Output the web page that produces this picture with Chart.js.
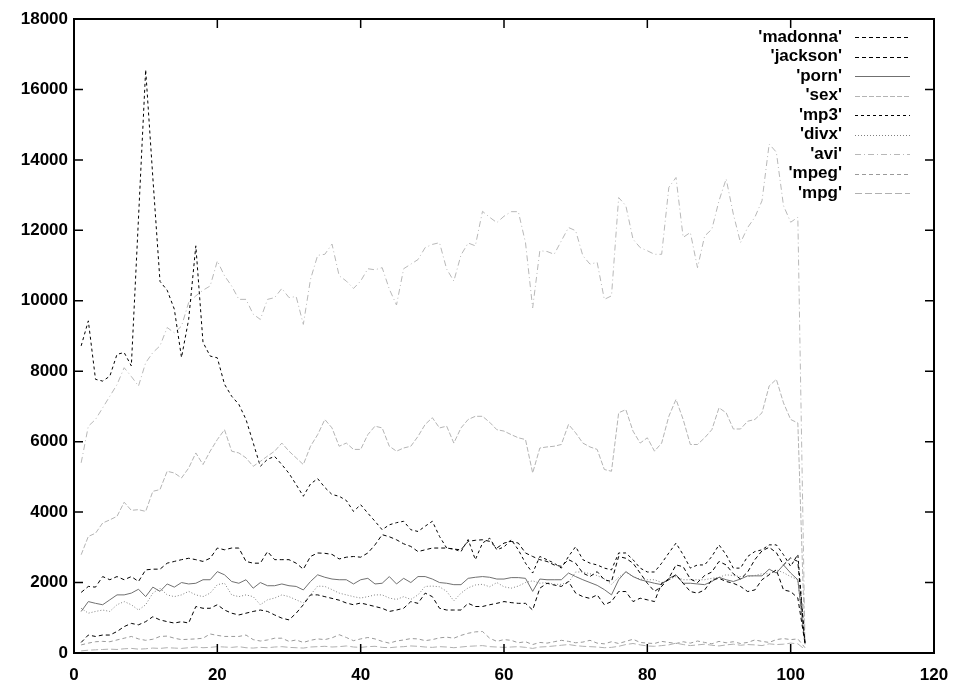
<!DOCTYPE html>
<html>
<head>
<meta charset="utf-8">
<script src="https://cdn.jsdelivr.net/npm/chart.js@4"></script>
<style>
  html, body { margin: 0; padding: 0; background: #fff; }
  #wrap { width: 958px; height: 686px; position: relative; }
</style>
</head>
<body>
<div id="wrap"><canvas id="c" width="958" height="686"></canvas></div>
<script>
// ---- data ----
const days = [1,2,3,4,5,6,7,8,9,10,11,12,13,14,15,16,17,18,19,20,21,22,23,24,25,26,27,28,29,30,31,32,33,34,35,36,37,38,39,40,41,42,43,44,45,46,47,48,49,50,51,52,53,54,55,56,57,58,59,60,61,62,63,64,65,66,67,68,69,70,71,72,73,74,75,76,77,78,79,80,81,82,83,84,85,86,87,88,89,90,91,92,93,94,95,96,97,98,99,100,101,102];

const madonna = [1720,1890,1870,2170,2080,2170,2080,2170,2030,2360,
2380,2380,2550,2600,2650,2690,2650,2600,2690,2980,
2930,2980,2980,2600,2550,2550,2880,2650,2650,2650,
2550,2380,2740,2840,2830,2800,2670,2720,2740,2720,
2840,3070,3360,3300,3215,3100,3025,2880,2930,2980,
2980,2980,2950,2930,3170,3200,3215,3170,2980,3120,
3170,3120,2840,2740,2650,2600,2500,2460,2650,2550,
2270,2170,2310,2080,2030,2740,2690,2550,2270,1980,
1750,1890,2120,2500,2450,2100,2000,2200,2300,2600,
2500,2250,2100,2300,2650,2900,3000,2850,2500,2700,
2600,280];

const jackson = [300,510,470,510,510,610,750,840,800,890,
1030,940,890,850,890,850,1320,1270,1270,1370,
1220,1130,1080,1130,1180,1220,1180,1080,990,940,
1130,1370,1650,1650,1600,1550,1500,1420,1370,1420,
1370,1320,1270,1180,1220,1270,1460,1410,1700,1600,
1270,1220,1220,1220,1410,1320,1320,1370,1410,1460,
1430,1410,1410,1220,1840,1980,1930,1890,2030,1700,
1600,1550,1650,1370,1460,1745,1745,1460,1555,1510,
1460,1980,2080,2220,1980,1745,1700,1790,2080,2120,
2030,1980,1890,1745,1790,2080,2220,2360,1790,1745,
1560,275];

const porn = [1180,1460,1410,1370,1510,1650,1650,1700,1810,1600,
1870,1750,1960,1870,2000,1960,1980,2080,2080,2310,
2220,2030,1980,2080,1840,2000,1910,1910,1960,1910,
1890,1790,2030,2220,2150,2100,2080,2080,1960,2080,
2120,1960,1980,2170,1960,2120,2000,2170,2170,2100,
2000,1980,1940,1940,2120,2150,2170,2150,2100,2100,
2140,2140,2120,1750,2100,2080,2080,2080,2270,2170,
2080,2000,1920,1800,1650,2080,2310,2170,2080,2030,
1980,1940,2120,2220,1980,1980,1960,1940,2030,2150,
2080,2030,2100,2190,2190,2190,2380,2270,2500,2270,
2080,275];

const sex = [2790,3310,3400,3690,3780,3880,4280,4050,4070,4020,
4590,4640,5160,5110,4970,5250,5680,5350,5730,6060,
6340,5730,5680,5540,5300,5440,5590,5730,5960,5730,
5540,5350,5870,6200,6630,6390,5870,5960,5780,5780,
6200,6440,6390,5870,5730,5820,5870,6150,6490,6680,
6390,6440,5960,6390,6630,6720,6720,6550,6340,6300,
6200,6110,6060,5110,5820,5850,5870,5920,6490,6250,
5960,5850,5780,5210,5160,6820,6910,6300,5960,6110,
5730,5960,6720,7200,6630,5920,5920,6110,6340,6960,
6820,6360,6360,6580,6630,6820,7580,7770,7100,6630,
6530,250];

const mp3 = [8720,9430,7770,7720,7860,8480,8530,8150,12350,16560,
13500,10550,10300,9760,8390,9470,11560,8820,8430,8380,
7630,7290,7060,6630,5970,5300,5500,5580,5350,5100,
4780,4450,4800,4950,4700,4500,4450,4330,4020,4210,
3970,3740,3500,3640,3700,3740,3500,3450,3600,3740,
3310,2980,2950,2880,3220,2650,3120,3260,2930,3010,
3220,2930,2550,2270,2740,2650,2550,2410,2740,3020,
2650,2550,2500,2410,2360,2840,2840,2650,2410,2300,
2300,2550,2840,3120,2790,2410,2500,2500,2740,3070,
2790,2410,2410,2740,2880,2930,3070,3070,2790,2460,
2800,280];

const divx = [1270,1130,1180,1220,1180,1370,1460,1370,1220,1370,
1700,1840,1650,1600,1650,1750,1650,1600,1700,1940,
1980,1650,1600,1650,1600,1370,1510,1560,1650,1600,
1510,1420,1650,1900,1890,1800,1700,1650,1600,1560,
1600,1650,1650,1560,1520,1600,1520,1650,1890,1900,
1880,1750,1480,1700,1850,1930,1950,1880,2000,1880,
1840,1900,2000,2050,1980,2000,1950,1950,2000,2300,
2300,2250,2200,2100,1950,2150,2300,2170,2100,2080,
2080,2000,2080,2170,2080,2080,2080,2080,2120,2150,
2220,2200,2170,2170,2200,2250,2250,2360,2280,2170,
2080,250];

const avi = [5400,6440,6630,6960,7290,7620,8100,7850,7580,8240,
8530,8720,9240,9090,9280,9950,10140,10300,10420,11130,
10710,10420,10040,10040,9620,9470,10040,10090,10350,10090,
10120,9330,10610,11290,11320,11610,10710,10560,10350,10560,
10910,10880,10940,10330,9880,10910,11040,11170,11510,11600,
11650,10900,10560,11300,11640,11560,12540,12370,12220,12400,
12530,12530,11650,9800,11420,11400,11320,11700,12080,11990,
11280,11040,11090,10040,10140,12930,12700,11750,11510,11420,
11320,11320,13220,13500,11800,11940,10940,11840,12030,12840,
13460,12460,11650,12080,12370,12840,14450,14220,12700,12230,
12370,300];

const mpeg = [230,280,320,330,320,370,420,470,400,360,
390,470,480,420,380,390,400,420,540,500,
470,470,470,510,380,340,370,420,420,330,
370,300,360,400,380,430,520,440,350,400,
440,400,330,280,340,370,410,400,350,380,
430,450,420,500,560,600,610,420,330,380,
360,290,320,240,300,280,320,360,330,290,
310,360,280,260,320,270,330,390,300,280,
270,330,300,270,320,280,340,300,260,330,
290,320,270,300,370,330,300,380,410,380,
400,150];

const mpg = [60,80,90,100,110,100,120,130,110,120,
140,130,150,140,130,150,170,150,160,180,
170,160,180,150,140,160,150,170,180,160,
150,140,170,180,190,170,180,200,170,160,
180,190,160,150,170,180,200,190,170,160,
180,170,150,170,190,200,210,180,170,160,
170,180,160,130,170,180,200,220,240,210,
190,180,170,150,160,190,240,270,230,200,
190,210,230,280,240,210,230,250,220,200,
230,250,220,240,230,210,260,240,250,280,
260,100];

const seriesNames = ["'madonna'", "'jackson'", "'porn'", "'sex'", "'mp3'", "'divx'", "'avi'", "'mpeg'", "'mpg'"];
const seriesValues = [madonna, jackson, porn, sex, mp3, divx, avi, mpeg, mpg];
const xTicks = [0, 20, 40, 60, 80, 100, 120];
const yTicks = [0, 2000, 4000, 6000, 8000, 10000, 12000, 14000, 16000, 18000];

// ---- styles ----
const styles = [
  { color: '#000000', dash: [4, 3] },
  { color: '#000000', dash: [4, 3] },
  { color: '#707070', dash: [] },
  { color: '#b4b4b4', dash: [5, 2] },
  { color: '#000000', dash: [3, 3] },
  { color: '#808080', dash: [1, 2] },
  { color: '#b8b8b8', dash: [6, 3, 1, 3] },
  { color: '#9a9a9a', dash: [4, 3] },
  { color: '#b0b0b0', dash: [7, 3] }
];

const FONT = '"Liberation Sans", Arial, sans-serif';

const datasets = seriesNames.map((name, i) => ({
  label: name,
  data: days.map((d, k) => ({ x: d, y: seriesValues[i][k] })),
  borderColor: styles[i].color,
  borderDash: styles[i].dash,
  borderWidth: 1,
  pointRadius: 0,
  fill: false,
  tension: 0
}));

const frame = {
  id: 'frame',
  afterDraw(chart) {
    const { ctx, chartArea: a, scales } = chart;
    ctx.save();
    ctx.strokeStyle = '#000';
    ctx.lineWidth = 2;
    ctx.setLineDash([]);
    ctx.strokeRect(a.left, a.top, a.right - a.left, a.bottom - a.top);
    ctx.lineWidth = 1.5;
    const L = 9;
    yTicks.forEach(v => {
      const y = scales.y.getPixelForValue(v);
      ctx.beginPath();
      ctx.moveTo(a.left, y); ctx.lineTo(a.left + L, y);
      ctx.moveTo(a.right, y); ctx.lineTo(a.right - L, y);
      ctx.stroke();
    });
    xTicks.forEach(v => {
      const x = scales.x.getPixelForValue(v);
      ctx.beginPath();
      ctx.moveTo(x, a.bottom); ctx.lineTo(x, a.bottom - L);
      ctx.moveTo(x, a.top); ctx.lineTo(x, a.top + L);
      ctx.stroke();
    });
    // key
    const textRight = 842, x0 = 855, x1 = 910, yStart = 37, step = 19.5;
    ctx.font = 'bold 17px ' + FONT;
    ctx.textAlign = 'right';
    ctx.textBaseline = 'middle';
    chart.data.datasets.forEach((ds, i) => {
      const y = yStart + i * step;
      ctx.fillStyle = '#000';
      ctx.fillText(ds.label, textRight, y);
      ctx.strokeStyle = ds.borderColor;
      ctx.lineWidth = 1;
      ctx.setLineDash(ds.borderDash || []);
      ctx.beginPath();
      ctx.moveTo(x0, Math.round(y) + 0.5);
      ctx.lineTo(x1, Math.round(y) + 0.5);
      ctx.stroke();
    });
    ctx.restore();
  }
};

new Chart(document.getElementById('c'), {
  type: 'line',
  data: { datasets },
  options: {
    responsive: false,
    animation: false,
    devicePixelRatio: 1,
    layout: { padding: { top: 19, right: 24, left: 0, bottom: 0 } },
    plugins: { legend: { display: false }, tooltip: { enabled: false } },
    scales: {
      x: {
        type: 'linear', min: 0, max: 120,
        afterFit(s) { s.height = 33; s.paddingRight = 10; s.paddingLeft = 0; },
        afterBuildTicks(s) { s.ticks = xTicks.map(v => ({ value: v })); },
        grid: { display: false, drawTicks: false, tickLength: 0 }, border: { display: false },
        ticks: { color: '#000', font: { family: FONT, size: 17, weight: 'bold' }, padding: 12, maxRotation: 0,
                 callback: v => String(v) }
      },
      y: {
        type: 'linear', min: 0, max: 18000,
        afterFit(s) { s.width = 74; s.paddingTop = 5; s.paddingBottom = 0; },
        afterBuildTicks(s) { s.ticks = yTicks.map(v => ({ value: v })); },
        grid: { display: false, drawTicks: false, tickLength: 0 }, border: { display: false },
        ticks: { color: '#000', font: { family: FONT, size: 17, weight: 'bold' }, padding: 6,
                 callback: v => String(v) }
      }
    }
  },
  plugins: [frame]
});
</script>
</body>
</html>
